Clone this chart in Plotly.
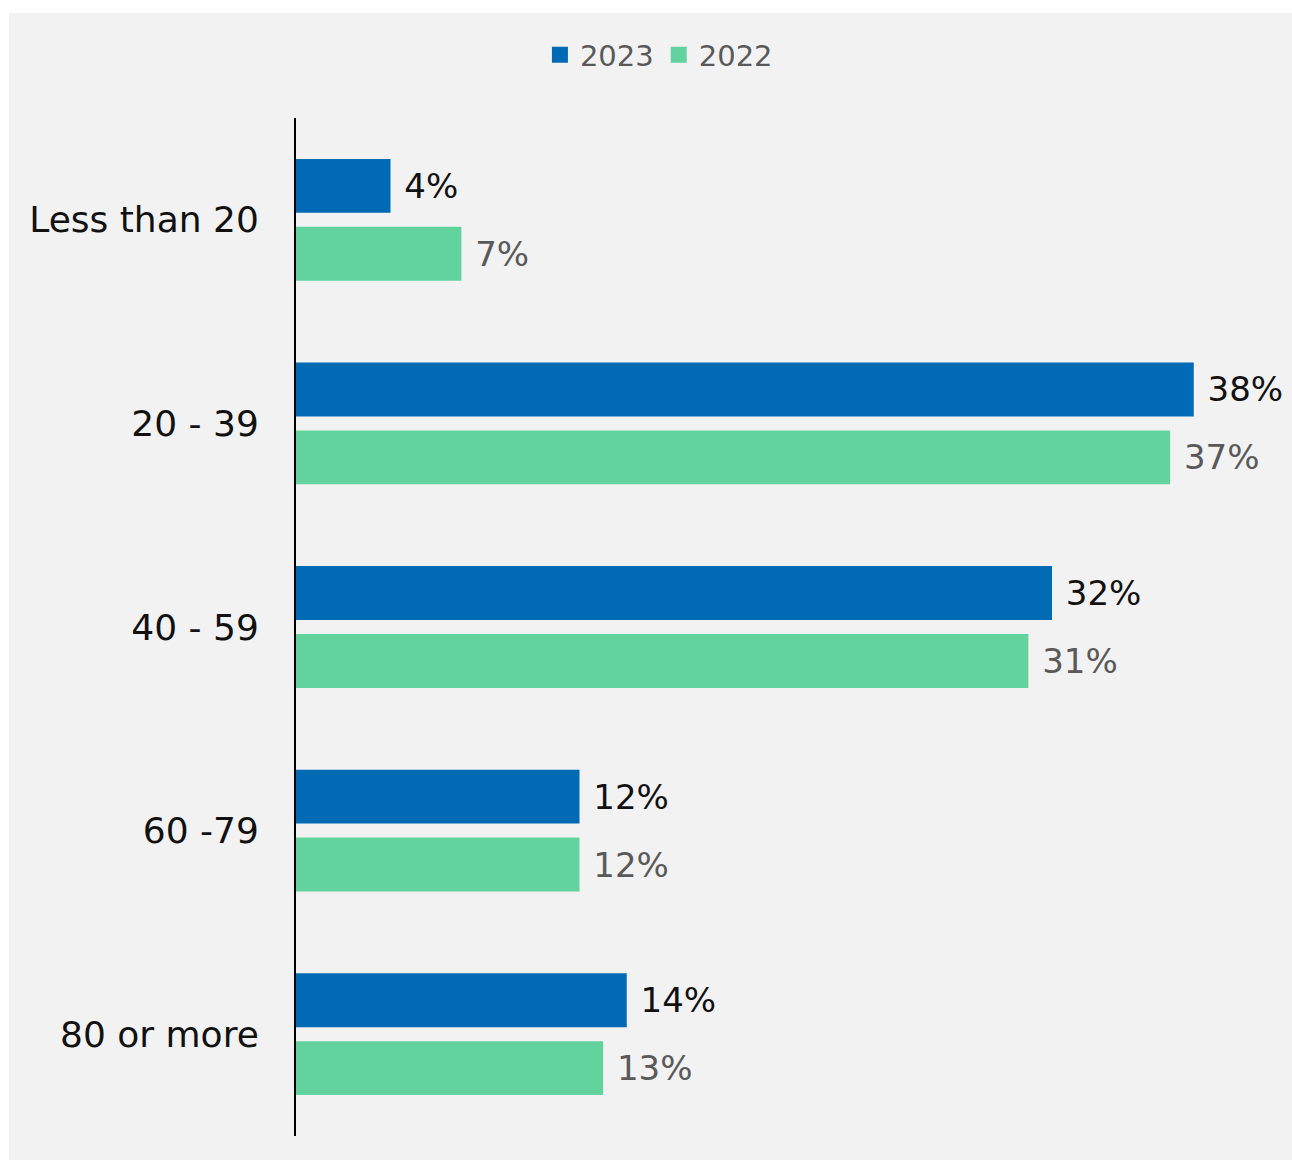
import plotly.graph_objects as go

categories = ["Less than 20", "20 - 39", "40 - 59", "60 -79", "80 or more"]
values_2023 = [4, 38, 32, 12, 14]
values_2022 = [7, 37, 31, 12, 13]
series_names = ["2023", "2022"]
colors = ["#006ab5", "#62d39e"]

W, H = 1292, 1160
ML, MR, MT, MB = 296, 51, 118, 24
FONT = "DejaVu Sans"

fig = go.Figure()
fig.add_trace(go.Bar(
    y=categories, x=values_2023, orientation="h", name=series_names[0],
    marker=dict(color=colors[0], line=dict(width=0)), showlegend=False,
    text=[f" {v}%" for v in values_2023], textposition="outside",
    textfont=dict(family=FONT, size=34, color="#111111"), cliponaxis=False,
))
fig.add_trace(go.Bar(
    y=categories, x=values_2022, orientation="h", name=series_names[1],
    marker=dict(color=colors[1], line=dict(width=0)), showlegend=False,
    text=[f" {v}%" for v in values_2022], textposition="outside",
    textfont=dict(family=FONT, size=34, color="#595959"), cliponaxis=False,
))
# legend entries with larger square swatches
for name, c in zip(series_names, colors):
    fig.add_trace(go.Scatter(
        x=[None], y=[None], mode="markers", name=name,
        marker=dict(symbol="square", size=18, color=c), showlegend=True,
    ))

pw = W - ML - MR
ph = H - MT - MB
fig.add_shape(type="rect", xref="paper", yref="paper", layer="below",
              x0=(9 - ML) / pw, x1=(W + 10 - ML) / pw,
              y0=-(MB + 10) / ph, y1=(H - MB - 13) / ph,
              fillcolor="#f2f2f2", line=dict(width=0))

fig.update_layout(
    width=W, height=H,
    margin=dict(l=ML, r=MR, t=MT, b=MB, pad=0),
    paper_bgcolor="white", plot_bgcolor="rgba(0,0,0,0)",
    barmode="group", bargap=0.333, bargroupgap=0.206,
    font=dict(family=FONT, color="#111111"),
    showlegend=True,
    legend=dict(orientation="h", xref="container", yref="container",
                x=0.51, xanchor="center", y=1 - 55 / H, yanchor="middle",
                font=dict(family=FONT, size=29, color="#595959"),
                bgcolor="rgba(0,0,0,0)", itemwidth=30, traceorder="normal",
                itemsizing="trace"),
)
fig.update_xaxes(range=[0, 40], visible=False, showgrid=False, zeroline=False)
fig.update_yaxes(autorange="reversed", showgrid=False, zeroline=False,
                 showline=True, linecolor="#000000", linewidth=2,
                 ticks="", ticklabelstandoff=28,
                 tickfont=dict(family=FONT, size=36, color="#111111"))

fig.write_html(
    "out.html",
    config={"displayModeBar": False},
    default_width=f"{W}px", default_height=f"{H}px",
    post_script="document.body.style.margin='0';"
                "document.documentElement.style.overflow='hidden';"
                "document.body.style.overflow='hidden';",
)
